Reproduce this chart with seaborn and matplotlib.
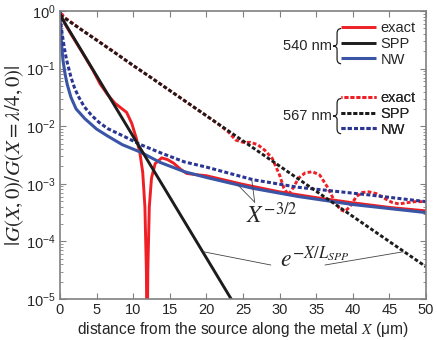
import numpy as np
import matplotlib
matplotlib.use("Agg")
import matplotlib.pyplot as plt
from matplotlib.path import Path
from matplotlib.patches import PathPatch
import seaborn as sns

# -----------------------------
# DATA (stored as log10 |G|)
# -----------------------------

x_exact540 = [0, 0.3, 0.8, 1.5, 3.0, 4.5, 5.5, 6.5, 7.5, 8.3, 9.1, 9.8, 10.4, 10.9,
              11.3, 11.6, 11.8, 11.9, 12.0, 12.2, 12.5, 13.0, 13.9, 14.7, 15.5, 16.5,
              17.3, 18.5, 20.0, 22.0, 25.0, 30.0, 35.0, 40.0, 45.0, 50.0]
lg_exact540 = [0, -0.12, -0.25, -0.40, -0.71, -1.03, -1.27, -1.45, -1.60, -1.68, -1.76,
               -1.95, -2.20, -2.45, -2.80, -3.40, -4.50, -6.00, -4.50, -3.40, -2.90,
               -2.65, -2.55, -2.58, -2.64, -2.75, -2.82, -2.84, -2.86, -2.92, -3.01,
               -3.14, -3.24, -3.33, -3.41, -3.47]

x_spp540 = [0, 24]
lg_spp540 = [-0.07, -5.13]

x_nw540 = [0, 0.1, 0.2, 0.4, 0.7, 1.0, 1.5, 2.2, 3.4, 5.0, 6.5, 8.5, 11.0, 13.7,
           17.0, 20.0, 23.0, 26.4, 32.5, 40.0, 50.0]
lg_nw540 = [0, -0.35, -0.55, -0.85, -1.10, -1.28, -1.50, -1.70, -1.87, -2.05, -2.17,
            -2.32, -2.45, -2.63, -2.79, -2.89, -2.98, -3.08, -3.22, -3.36, -3.50]

x_exact567 = [0, 0.5, 1.5, 3, 5, 7.5, 10, 12.5, 15, 17.5, 20, 22, 23, 24, 25, 26, 27,
              28, 29, 30, 30.6, 31.2, 31.8, 32.6, 33.5, 34.5, 35.5, 36.5, 37.5, 38.3,
              38.9, 39.6, 40.5, 41.3, 42.2, 43.2, 44.3, 45.3, 46.3, 47.3, 48.5, 50]
lg_exact567 = [0, -0.10, -0.19, -0.33, -0.50, -0.72, -0.95, -1.16, -1.38, -1.60, -1.82,
               -2.00, -2.10, -2.24, -2.28, -2.28, -2.32, -2.42, -2.56, -2.85, -3.08,
               -3.19, -3.08, -2.90, -2.81, -2.79, -2.85, -3.05, -3.30, -3.45, -3.48,
               -3.40, -3.22, -3.15, -3.14, -3.17, -3.25, -3.32, -3.35, -3.33, -3.31,
               -3.31]

x_spp567 = [0, 50]
lg_spp567 = [-0.07, -4.44]

x_nw567 = [0, 0.15, 0.3, 0.6, 0.9, 1.5, 2.0, 2.5, 3.3, 4.3, 5.3, 6.5, 8.8, 11.0, 13.7,
           17.0, 20.0, 26.4, 32.5, 42.0, 50.0]
lg_nw567 = [0, -0.25, -0.40, -0.65, -0.85, -1.15, -1.34, -1.48, -1.66, -1.81, -1.93,
            -2.04, -2.18, -2.32, -2.46, -2.62, -2.71, -2.93, -3.06, -3.19, -3.31]

legend_labels = ["exact", "SPP", "NW"]
x_ticks = [0, 5, 10, 15, 20, 25, 30, 35, 40, 45, 50]

# -----------------------------
# STYLE
# -----------------------------

sns.set_style("ticks")
plt.rcParams["font.family"] = ["Liberation Sans", "DejaVu Sans"]

RED = "#ee2025"
BLACK = "#1c1c1c"
BLUE = "#3a55a6"
DBLUE = "#2b3592"
GRAY = "#808080"
DASH = (1.3, 0.75)

fig = plt.figure(figsize=(4.37, 3.40), dpi=100)
ax = fig.add_axes([60 / 437, 1 - 299 / 340, 366 / 437, 288 / 340])

# -----------------------------
# CURVES
# -----------------------------

def draw(x, lg, color, lw, dashed=False, offset=0.0):
    sns.lineplot(x=x, y=10 ** np.array(lg), ax=ax, color=color, lw=lw)
    line = ax.lines[-1]
    if dashed:
        line.set_linestyle((offset, DASH))
    line.set_solid_capstyle("butt")
    return line

l_ex540 = draw(x_exact540, lg_exact540, RED, 2.1)
l_ex567 = draw(x_exact567, lg_exact567, RED, 2.1, dashed=True, offset=1.0)
l_nw540 = draw(x_nw540, lg_nw540, BLUE, 2.2)
l_nw567 = draw(x_nw567, lg_nw567, DBLUE, 2.2, dashed=True)
l_spp540 = draw(x_spp540, lg_spp540, BLACK, 2.1)
l_spp567 = draw(x_spp567, lg_spp567, BLACK, 2.1, dashed=True)

ax.set_yscale("log")
ax.set_xlim(0, 50)
ax.set_ylim(1e-5, 1)
ax.set_xticks(x_ticks)

# -----------------------------
# AXES LOOK
# -----------------------------

for s in ax.spines.values():
    s.set_visible(True)
    s.set_color(GRAY)
    s.set_linewidth(1.2)

ax.tick_params(which="both", direction="in", top=True, right=True, color=GRAY,
               labelsize=10.5, pad=3)
ax.tick_params(which="major", length=4)
ax.tick_params(which="minor", length=2)
ax.tick_params(axis="x", which="minor", bottom=False, top=False)

ax.set_xlabel("distance from the source along the metal $X$ ($\\mathregular{\\mu}$m)",
              fontsize=11.2, labelpad=2, math_fontfamily="stix")
ax.set_ylabel(r"$|G(X,0)/G(X=\lambda/4,0)|$", fontsize=15, labelpad=0,
              math_fontfamily="stix")

# -----------------------------
# ANNOTATIONS
# -----------------------------

ax.text(29.0, 10 ** -3.55, r"$X^{-3/2}$", fontsize=17, ha="center", va="center",
        math_fontfamily="stix")
ax.plot([26.6, 24.3], [10 ** -3.32, 10 ** -3.02], color="#444444", lw=0.6)
ax.plot([26.6, 26.2], [10 ** -3.32, 10 ** -2.93], color="#444444", lw=0.6)

ax.text(34.8, 10 ** -4.31, r"$e^{-X/L_{SPP}}$", fontsize=17, ha="center", va="center",
        math_fontfamily="stix")
ax.plot([19.6, 28.8], [10 ** -4.18, 10 ** -4.41], color="#444444", lw=0.6)
ax.plot([36.2, 46.9], [10 ** -4.41, 10 ** -4.18], color="#444444", lw=0.6)

# -----------------------------
# LEGENDS (two groups with braces)
# -----------------------------

def brace(xl, yc, w, h):
    # thin curly brace opening to the right, in axes fraction
    xm = xl + w * 0.5
    xr = xl + w
    t, b = yc + h / 2, yc - h / 2
    verts = [(xr, t), (xm, t), (xm, t - h * 0.14),
             (xm, yc + h * 0.1),
             (xm, yc), (xl, yc),
             (xm, yc), (xm, yc - h * 0.1),
             (xm, b + h * 0.14),
             (xm, b), (xr, b)]
    codes = [Path.MOVETO, Path.CURVE3, Path.CURVE3, Path.LINETO,
             Path.CURVE3, Path.CURVE3, Path.CURVE3, Path.CURVE3,
             Path.LINETO, Path.CURVE3, Path.CURVE3]
    ax.add_patch(PathPatch(Path(verts, codes), transform=ax.transAxes,
                           fill=False, lw=0.9, edgecolor="#222222", clip_on=False))

for handles, top, name in [([l_ex540, l_spp540, l_nw540], 0.965, "540 nm"),
                           ([l_ex567, l_spp567, l_nw567], 0.722, "567 nm")]:
    leg = ax.legend(handles=handles, labels=legend_labels, loc="upper left",
                    bbox_to_anchor=(0.769, top), frameon=False, fontsize=10.5,
                    handlelength=2.4, handletextpad=0.3, labelspacing=0.12,
                    borderpad=0, borderaxespad=0)
    ax.add_artist(leg)
    yc = top - 0.087
    ax.text(0.742, yc, name, transform=ax.transAxes, fontsize=10.5,
            ha="right", va="center")
    brace(0.746, yc, 0.022, 0.122)

fig.savefig("out.png", dpi=100)
